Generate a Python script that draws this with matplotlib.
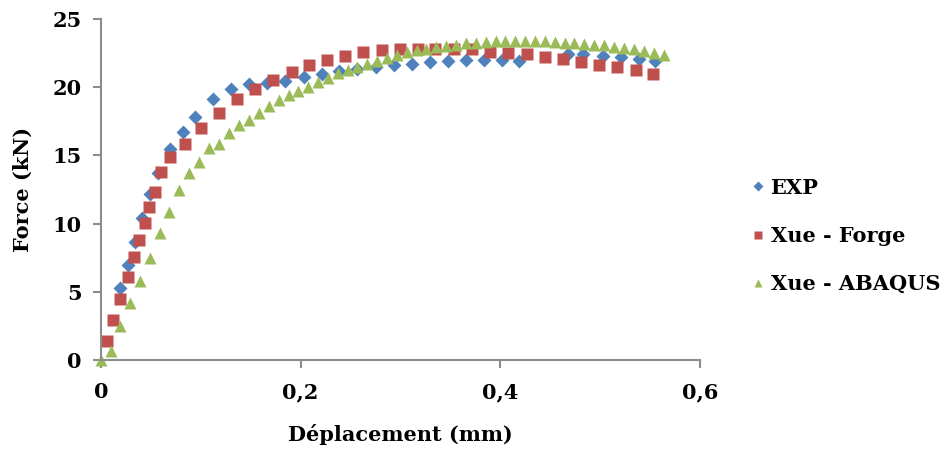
import matplotlib
matplotlib.use("Agg")
import matplotlib.pyplot as plt

# EXP
exp_x = [0.019, 0.027, 0.034, 0.041, 0.049, 0.057, 0.069, 0.082, 0.094, 0.112, 0.130, 0.148,
         0.166, 0.184, 0.203, 0.221, 0.238, 0.256, 0.275, 0.293, 0.311, 0.330, 0.348, 0.366,
         0.384, 0.402, 0.419, 0.468, 0.483, 0.503, 0.521, 0.539, 0.555]
exp_y = [5.26, 6.96, 8.63, 10.43, 12.17, 13.73, 15.45, 16.7, 17.84, 19.13, 19.87, 20.23,
         20.33, 20.43, 20.72, 20.97, 21.2, 21.3, 21.45, 21.6, 21.73, 21.85, 21.9, 22.0,
         22.0, 22.0, 21.95, 22.45, 22.45, 22.29, 22.2, 22.04, 21.95]

# Xue - Forge
forge_x = [0.0063, 0.0123, 0.019, 0.0267, 0.033, 0.038, 0.0444, 0.048, 0.054, 0.060, 0.069,
           0.0838, 0.100, 0.1178, 0.1365, 0.1545, 0.1725, 0.191, 0.2086, 0.2266, 0.2446,
           0.2627, 0.281, 0.2994, 0.317, 0.335, 0.3535, 0.372, 0.390, 0.408, 0.4266, 0.4446,
           0.463, 0.481, 0.499, 0.517, 0.5355, 0.553]
forge_y = [1.39, 2.93, 4.45, 6.1, 7.53, 8.8, 10.07, 11.24, 12.3, 13.76, 14.9, 15.84, 16.98,
           18.08, 19.11, 19.89, 20.53, 21.11, 21.63, 22.0, 22.29, 22.58, 22.73, 22.8, 22.82,
           22.82, 22.8, 22.78, 22.58, 22.53, 22.43, 22.24, 22.04, 21.85, 21.65, 21.46, 21.26,
           20.94]

# Xue - ABAQUS
abaqus_x = [0.0, 0.0097, 0.019, 0.029, 0.039, 0.0488, 0.0588, 0.0684, 0.0784, 0.0884, 0.0984,
            0.1085, 0.1185, 0.1285, 0.1385, 0.1485, 0.1585, 0.168, 0.178, 0.188, 0.1976,
            0.2076, 0.2176, 0.227, 0.237, 0.247, 0.2567, 0.2667, 0.2767, 0.2864, 0.296, 0.306,
            0.316, 0.326, 0.336, 0.346, 0.3555, 0.3655, 0.3755, 0.3855, 0.3955, 0.405, 0.415,
            0.425, 0.435, 0.445, 0.455, 0.4643, 0.474, 0.484, 0.4937, 0.5037, 0.5137, 0.5237,
            0.5337, 0.5437, 0.5537, 0.5637]
abaqus_y = [0.0, 0.68, 2.5, 4.15, 5.8, 7.45, 9.28, 10.87, 12.46, 13.73, 14.54, 15.52, 15.81,
            16.66, 17.23, 17.6, 18.08, 18.62, 19.06, 19.4, 19.72, 20.04, 20.36, 20.7, 21.0,
            21.25, 21.45, 21.72, 21.94, 22.14, 22.36, 22.56, 22.73, 22.82, 22.92, 23.02, 23.12,
            23.22, 23.26, 23.31, 23.36, 23.36, 23.36, 23.36, 23.36, 23.36, 23.31, 23.26, 23.22,
            23.17, 23.12, 23.07, 22.97, 22.87, 22.78, 22.68, 22.53, 22.38]

x_ticks = [0, 0.2, 0.4, 0.6]
x_tick_labels = ["0", "0,2", "0,4", "0,6"]
y_ticks = [0, 5, 10, 15, 20, 25]

plt.rcParams["font.family"] = "DejaVu Serif"
plt.rcParams["font.weight"] = "bold"

fig = plt.figure(figsize=(9.48, 4.5), dpi=100)
ax = fig.add_axes([0.1065, 0.2, 0.632, 0.758])

ax.plot(exp_x, exp_y, "D", color="#4F81BD", ms=7.5, mec="none", label="EXP", clip_on=False)
ax.plot(forge_x, forge_y, "s", color="#C0504D", ms=8, mec="none", label="Xue - Forge", clip_on=False)
ax.plot(abaqus_x, abaqus_y, "^", color="#9BBB59", ms=8.5, mec="none", label="Xue - ABAQUS", clip_on=False)

ax.set_xlim(0, 0.6)
ax.set_ylim(0, 25)
ax.set_xticks(x_ticks)
ax.set_xticklabels(x_tick_labels)
ax.set_yticks(y_ticks)

for s in ["top", "right"]:
    ax.spines[s].set_visible(False)
for s in ["left", "bottom"]:
    ax.spines[s].set_color("#8c8c8c")
    ax.spines[s].set_linewidth(1.5)
ax.tick_params(colors="#8c8c8c", width=1.5, length=6, labelcolor="black", labelsize=15)
ax.tick_params(axis="x", pad=10)
ax.tick_params(axis="y", pad=8)

ax.set_xlabel("Déplacement (mm)", fontsize=15, fontweight="bold", labelpad=16)
ax.set_ylabel("Force (kN)", fontsize=15, fontweight="bold", labelpad=14)

ax.legend(loc="center left", bbox_to_anchor=(1.048, 0.364), frameon=False, fontsize=15,
          handletextpad=0.1, handlelength=1.0, labelspacing=1.35, markerscale=0.7)

fig.savefig("out.png", dpi=100)
